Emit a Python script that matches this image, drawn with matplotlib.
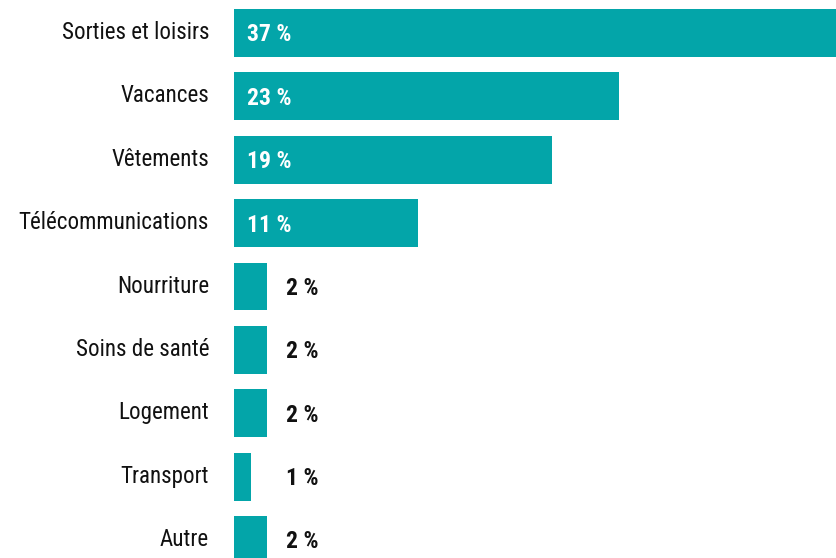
import matplotlib
matplotlib.use("Agg")
import matplotlib.pyplot as plt
from matplotlib import font_manager
import matplotlib.transforms as mtransforms

# data
categories = ["Sorties et loisirs", "Vacances", "Vêtements", "Télécommunications",
              "Nourriture", "Soins de santé", "Logement", "Transport", "Autre"]
values = [37, 23, 19, 11, 2, 2, 2, 1, 2]
value_labels = ["37 %", "23 %", "19 %", "11 %", "2 %", "2 %", "2 %", "1 %", "2 %"]

bar_color = "#03A5A9"

# pick a narrow font if there is one
names = {f.name for f in font_manager.fontManager.ttflist}
font = "DejaVu Sans"
for cand in ["Liberation Sans Narrow", "Roboto Condensed", "Open Sans Condensed", "DejaVu Sans"]:
    if cand in names:
        font = cand
        break
plt.rcParams["font.family"] = [font, "DejaVu Sans"]

fig = plt.figure(figsize=(8.36, 5.58), dpi=100)
ax = fig.add_axes([234 / 836, 0, 1 - 234 / 836, 1])

ypos = list(range(len(categories)))
ax.barh(ypos, values, height=0.757, color=bar_color)

ax.set_xlim(0, 35.96)
ax.set_ylim(8.284, -0.521)

ax.set_yticks(ypos)
ax.set_yticklabels(categories, fontsize=16.6, color="#111111")
ax.tick_params(axis="y", length=0, pad=18)
ax.set_xticks([])
for s in ax.spines.values():
    s.set_visible(False)

# nudge category labels up a little
shift = mtransforms.ScaledTranslation(0, 3 / 100, fig.dpi_scale_trans)
for lbl in ax.get_yticklabels():
    lbl.set_transform(lbl.get_transform() + shift)

for y, v, lab in zip(ypos, values, value_labels):
    if v >= 5:
        ax.text(0.78, y + 0.03, lab, color="white", fontsize=17, fontweight="bold",
                va="center", ha="left")
    else:
        ax.text(3.11, y + 0.03, lab, color="#111111", fontsize=17, fontweight="bold",
                va="center", ha="left")

fig.savefig("out.png", dpi=100)
